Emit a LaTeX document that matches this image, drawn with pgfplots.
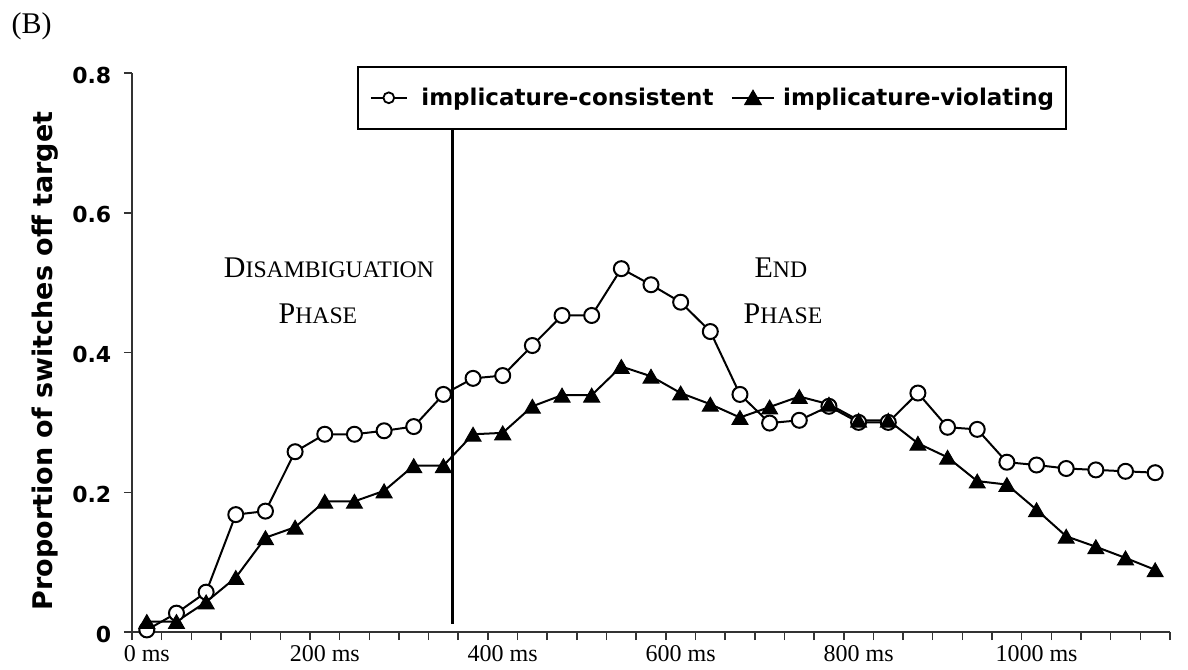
\documentclass[border=0pt]{standalone}
\usepackage{fontspec}
\setmainfont{Liberation Serif}
\newfontfamily\verd{DejaVu Sans}
\usepackage{pgfplots}
\pgfplotsset{compat=1.18}
\usepackage{pgfplotstable}

% proportion of switches off target per 33 ms bin
\pgfplotstableread{
bin consistent violating
0  0.003 0.015
1  0.027 0.015
2  0.057 0.043
3  0.168 0.078
4  0.173 0.135
5  0.258 0.150
6  0.283 0.187
7  0.283 0.187
8  0.288 0.202
9  0.294 0.238
10 0.340 0.238
11 0.363 0.283
12 0.367 0.285
13 0.410 0.323
14 0.453 0.339
15 0.453 0.339
16 0.520 0.380
17 0.497 0.366
18 0.472 0.342
19 0.430 0.326
20 0.340 0.307
21 0.299 0.322
22 0.303 0.337
23 0.323 0.326
24 0.300 0.303
25 0.300 0.303
26 0.342 0.270
27 0.293 0.250
28 0.290 0.216
29 0.243 0.211
30 0.239 0.175
31 0.234 0.137
32 0.232 0.122
33 0.230 0.106
34 0.228 0.089
}\switchdata

\begin{document}
\begin{tikzpicture}
\path[use as bounding box] (0,0) rectangle (594pt,-334.5pt);
\node[font=\fontsize{15}{17}\selectfont] at (15.85pt,-13pt) {(B)};
\begin{axis}[
  at={(66pt,-316pt)}, anchor=south west,
  scale only axis, width=519pt, height=279.5pt,
  xmin=-0.5, xmax=34.5, ymin=0, ymax=0.8,
  axis x line*=bottom, axis y line*=left,
  axis line style={-, black!80, line width=0.75pt},
  tick align=outside, major tick length=4pt,
  tick style={black!80, line width=0.75pt},
  xtick={-0.5,0.5,...,34.5},
  xticklabels={0 ms,,,,,,200 ms,,,,,,400 ms,,,,,,600 ms,,,,,,800 ms,,,,,,1000 ms,,,,,},
  xticklabel style={font=\fontsize{12}{14}\selectfont, anchor=base, inner sep=0pt, xshift=7.415pt, yshift=-10.85pt},
  ytick={0,0.2,0.4,0.6,0.8},
  yticklabels={0,0.2,0.4,0.6,0.8},
  yticklabel style={font=\verd\bfseries\fontsize{11}{13}\selectfont, anchor=east, inner sep=0pt, xshift=-6.15pt, yshift=-1pt},
  ylabel={Proportion of switches off target},
  ylabel style={font=\verd\bfseries\fontsize{13.5}{16}\selectfont, at={(axis description cs:-0.0838,0.4848)}, anchor=center},
  clip=false,
  legend columns=2,
  legend style={at={(axis description cs:0.2168,1.0125)}, anchor=north west,
    draw=black, line width=0.75pt, fill=white, inner xsep=6pt, inner ysep=2pt,
    minimum height=27pt,
    font=\verd\bfseries\fontsize{11.5}{13}\selectfont, nodes={inner sep=0pt},
    /tikz/every odd column/.append style={column sep=0pt},
    /tikz/every even column/.append style={column sep=8.65pt}},
  legend cell align=left,
]
\addplot[black, line width=1pt, mark=*, mark size=3.75pt,
  mark options={fill=white, draw=black, line width=1pt},
  legend image code/.code={
    \path[draw=none, fill=none] (0pt,-4pt) rectangle (25.3pt,4pt);
    \draw[black, line width=1pt] (0pt,0pt) -- (18pt,0pt);
    \draw[black, fill=white, line width=0.9pt] (9pt,0pt) circle (2.7pt);
  }] table[x=bin, y=consistent] {\switchdata};
\addlegendentry{implicature-consistent}
\addplot[black, line width=1pt, mark=triangle*, mark size=4.6pt,
  mark options={fill=black, draw=black, line width=0.5pt, yshift=-1.15pt},
  legend image code/.code={
    \path[draw=none, fill=none] (0pt,-4pt) rectangle (25.7pt,4pt);
    \draw[black, line width=1pt] (0pt,0pt) -- (21.2pt,0pt);
    \draw[black, fill=black] plot[mark=triangle*, mark size=4.3pt, mark options={yshift=-1pt}] coordinates {(10.6pt,0pt)};
  }] table[x=bin, y=violating] {\switchdata};
\addlegendentry{implicature-violating}
% boundary between the disambiguation and end phases
\addplot[black, line width=1.5pt, mark=none, forget plot] coordinates {(10.3,0.012) (10.3,0.725)};
\node[anchor=base, font=\fontsize{15}{18}\selectfont] at (axis cs:6.14,0.5076) {D\fontsize{11.85}{14}\selectfont ISAMBIGUATION};
\node[anchor=base, font=\fontsize{15}{18}\selectfont] at (axis cs:5.77,0.442) {P\fontsize{11.85}{14}\selectfont HASE};
\node[anchor=base, font=\fontsize{15}{18}\selectfont] at (axis cs:21.38,0.5076) {E\fontsize{11.85}{14}\selectfont ND};
\node[anchor=base, font=\fontsize{15}{18}\selectfont] at (axis cs:21.45,0.442) {P\fontsize{11.85}{14}\selectfont HASE};
\end{axis}
\end{tikzpicture}
\end{document}
